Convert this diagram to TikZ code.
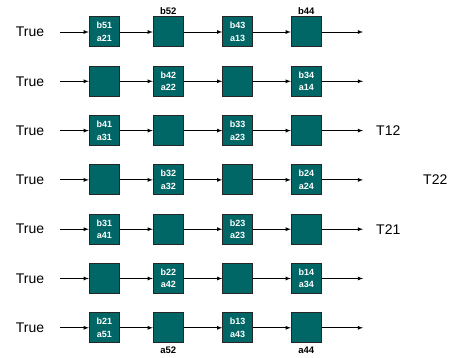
\documentclass[tikz,border=0pt]{standalone}
\usepackage{fontspec}
\setmainfont{Liberation Sans}
\usetikzlibrary{arrows,calc,positioning}
\definecolor{BoxClr}{rgb}{0,0.4,0.4}

\begin{document}
\begin{tikzpicture}[x=1pt,y=-1pt,
  box/.style={draw=black!85,line width=1pt,fill=BoxClr,minimum size=30pt,inner sep=0pt,
    text=white,align=center,font=\bfseries\fontsize{9}{12.5}\selectfont},
  lbl/.style={font=\fontsize{14}{16}\selectfont,inner sep=1pt},
  tag/.style={font=\bfseries\fontsize{9.5}{11}\selectfont,inner sep=1pt},
  flow/.style={-latex,line width=0.8pt}]
\useasboundingbox (0,0) rectangle (458,358);

% rows of the array
\foreach \r/\bx/\ax/\by/\ay in {1/b51/a21/b43/a13,2/b42/a22/b34/a14,3/b41/a31/b33/a23,
  4/b32/a32/b24/a24,5/b31/a41/b23/a23,6/b22/a42/b14/a34,7/b21/a51/b13/a43}{
  \pgfmathsetmacro\yy{32+49.3*(\r-1)}
  \ifodd\r
    \def\cA{\bx\\\ax}\def\cB{}\def\cC{\by\\\ay}\def\cD{}
  \else
    \def\cA{}\def\cB{\bx\\\ax}\def\cC{}\def\cD{\by\\\ay}
  \fi
  \node[lbl] (t\r) at (30,\yy) {True};
  \coordinate (s\r) at (60,\yy);
  \coordinate (e\r) at (363,\yy);
  \node[box] (n\r-1) at (104.3,\yy) {\cA};
  \node[box] (n\r-2) at (168.3,\yy) {\cB};
  \node[box] (n\r-3) at (237.7,\yy) {\cC};
  \node[box] (n\r-4) at (306.3,\yy) {\cD};
  \draw[flow] (s\r) -- (n\r-1);
  \draw[flow] (n\r-1) -- (n\r-2);
  \draw[flow] (n\r-2) -- (n\r-3);
  \draw[flow] (n\r-3) -- (n\r-4);
  \draw[flow] (n\r-4) -- (e\r);
}

\node[tag,above=1pt of n1-2] (b52) {b52};
\node[tag,above=1pt of n1-4] (b44) {b44};
\node[tag,below=2pt of n7-2] (a52) {a52};
\node[tag,below=2pt of n7-4] (a44) {a44};

\node[lbl,anchor=west] (T12) at (375,130.6) {T12};
\node[lbl,anchor=west] (T22) at (422,180) {T22};
\node[lbl,anchor=west] (T21) at (375,229.2) {T21};

\end{tikzpicture}
\end{document}
